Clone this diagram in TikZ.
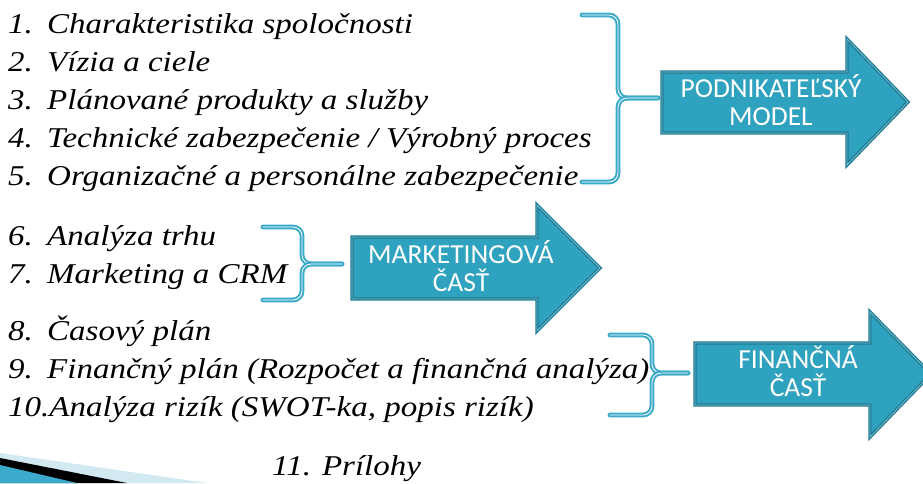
\documentclass[tikz,border=0pt]{standalone}
\usepackage{fontspec}
\newfontfamily\itemfont[FakeStretch=1.15]{Liberation Serif}
\newfontfamily\boxfont{Carlito}
\definecolor{bracecol}{RGB}{58,170,200}
\definecolor{arrowfill}{RGB}{46,162,190}
\definecolor{arrowedge}{RGB}{34,122,146}
\definecolor{cornerlight}{RGB}{210,233,242}
\definecolor{cornerblue}{RGB}{60,170,205}

\begin{document}
\begin{tikzpicture}[x=1pt,y=-1pt,
	item/.style={anchor=base west,inner sep=0pt,font=\itemfont\itshape\fontsize{28.7}{34}\selectfont},
	brace/.style={draw=bracecol,line width=2pt,double=white,double distance=0.8pt,rounded corners=9pt,line cap=round},
	bigarrow/.style={fill=arrowfill,draw=arrowedge,line width=1.3pt,double=arrowfill!70!white,double distance=0.8pt,line join=miter},
	arrowtext/.style={align=center,inner sep=0pt,text=white,font=\boxfont\fontsize{27.5}{28}\selectfont}]
	\useasboundingbox (0,0) rectangle (923,483);
	\clip (0,0) rectangle (923,483);

	% slide corner
	\fill[cornerlight] (0,453) -- (207,483) -- (0,483) -- cycle;
	\fill[black] (0,458) -- (127,483) -- (0,483) -- cycle;
	\fill[cornerblue] (0,465) -- (77,483) -- (0,483) -- cycle;

	% items
	\node[item] (i1) at (8,33) {\makebox[39pt][l]{1.}Charakteristika spoločnosti};
	\node[item] (i2) at (8,71) {\makebox[39pt][l]{2.}Vízia a ciele};
	\node[item] (i3) at (8,109) {\makebox[39pt][l]{3.}Plánované produkty a služby};
	\node[item] (i4) at (8,147) {\makebox[39pt][l]{4.}Technické zabezpečenie / Výrobný proces};
	\node[item] (i5) at (8,185) {\makebox[39pt][l]{5.}Organizačné a personálne zabezpečenie};
	\node[item] (i6) at (8,245) {\makebox[39pt][l]{6.}Analýza trhu};
	\node[item] (i7) at (8,283) {\makebox[39pt][l]{7.}Marketing a CRM};
	\node[item] (i8) at (8,340) {\makebox[39pt][l]{8.}Časový plán};
	\node[item] (i9) at (8,378) {\makebox[39pt][l]{9.}Finančný plán (Rozpočet a finančná analýza)};
	\node[item] (i10) at (8,416) {10.Analýza rizík (SWOT-ka, popis rizík)};
	\node[item] (i11) at (272,475) {11. Prílohy};

	% braces
	\coordinate (b1top) at (582,15);
	\coordinate (b1bot) at (582,182);
	\coordinate (b1tip) at (658,98);
	\draw[brace] (b1top) -- (618,15) -- (618,98) -- (b1tip);
	\draw[brace] (b1bot) -- (618,182) -- (618,98) -- (b1tip);

	\coordinate (b2top) at (263,227);
	\coordinate (b2bot) at (263,300);
	\coordinate (b2tip) at (342,264);
	\draw[brace] (b2top) -- (302,227) -- (302,264) -- (b2tip);
	\draw[brace] (b2bot) -- (302,300) -- (302,264) -- (b2tip);

	\coordinate (b3top) at (610,335);
	\coordinate (b3bot) at (610,415);
	\coordinate (b3tip) at (688,373);
	\draw[brace] (b3top) -- (652,335) -- (652,373) -- (b3tip);
	\draw[brace] (b3bot) -- (652,415) -- (652,373) -- (b3tip);

	% arrows
	\draw[bigarrow] (662,72) -- (847,72) -- (847,39) -- (908,102) -- (847,165) -- (847,133) -- (662,133) -- cycle;
	\node[arrowtext] (a1) at (771,100) {PODNIKATEĽSKÝ\\MODEL};

	\draw[bigarrow] (352,237) -- (537,237) -- (537,205) -- (600,268) -- (537,331) -- (537,299) -- (352,299) -- cycle;
	\node[arrowtext] (a2) at (461,266) {MARKETINGOVÁ\\ČASŤ};

	\draw[bigarrow] (695,343) -- (870,343) -- (870,312) -- (931,374) -- (870,437) -- (870,405) -- (695,405) -- cycle;
	\node[arrowtext] (a3) at (798,371) {FINANČNÁ\\ČASŤ};
\end{tikzpicture}
\end{document}
